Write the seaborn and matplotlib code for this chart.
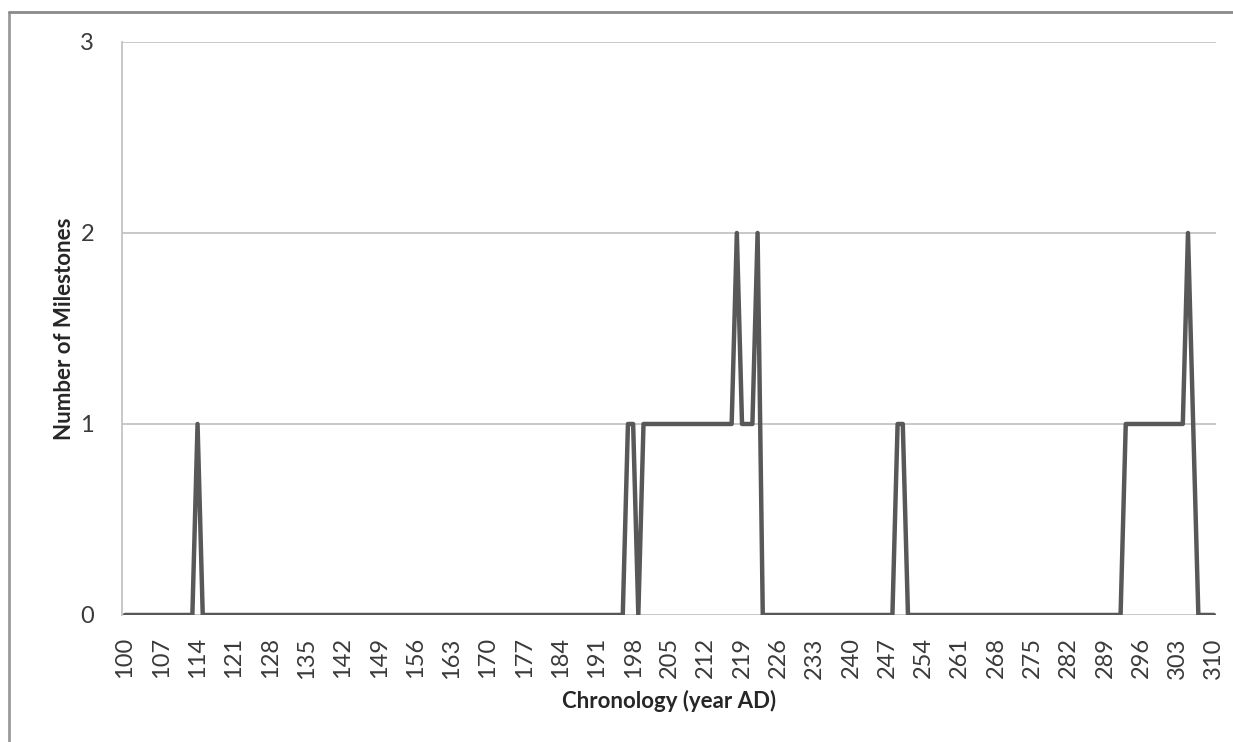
import matplotlib
matplotlib.use("Agg")
import matplotlib.pyplot as plt
import seaborn as sns
import pandas as pd
from matplotlib.lines import Line2D

# milestones per year, one row per decade (100-109, 110-119, ...)
years = list(range(100, 311))
milestones = [
    0, 0, 0, 0, 0, 0, 0, 0, 0, 0,
    0, 0, 0, 0, 1, 0, 0, 0, 0, 0,
    0, 0, 0, 0, 0, 0, 0, 0, 0, 0,
    0, 0, 0, 0, 0, 0, 0, 0, 0, 0,
    0, 0, 0, 0, 0, 0, 0, 0, 0, 0,
    0, 0, 0, 0, 0, 0, 0, 0, 0, 0,
    0, 0, 0, 0, 0, 0, 0, 0, 0, 0,
    0, 0, 0, 0, 0, 0, 0, 0, 0, 0,
    0, 0, 0, 0, 0, 0, 0, 0, 0, 0,
    0, 0, 0, 0, 0, 0, 0, 1, 1, 0,
    1, 1, 1, 1, 1, 1, 1, 1, 1, 1,
    1, 1, 1, 1, 1, 1, 1, 1, 2, 1,
    1, 1, 2, 0, 0, 0, 0, 0, 0, 0,
    0, 0, 0, 0, 0, 0, 0, 0, 0, 0,
    0, 0, 0, 0, 0, 0, 0, 0, 0, 1,
    1, 0, 0, 0, 0, 0, 0, 0, 0, 0,
    0, 0, 0, 0, 0, 0, 0, 0, 0, 0,
    0, 0, 0, 0, 0, 0, 0, 0, 0, 0,
    0, 0, 0, 0, 0, 0, 0, 0, 0, 0,
    0, 0, 0, 1, 1, 1, 1, 1, 1, 1,
    1, 1, 1, 1, 1, 2, 1, 0, 0, 0,
    0,
]
tick_years = list(range(100, 311, 7))
y_ticks = [0, 1, 2, 3]

df = pd.DataFrame({"year": years, "count": milestones})

sns.set_style("white")
plt.rcParams["font.family"] = ["Lato", "DejaVu Sans"]

fig = plt.figure(figsize=(12.33, 7.42), dpi=100)
ax = fig.add_axes([0.0989, 0.1712, 0.8873, 0.7722])

sns.lineplot(data=df, x="year", y="count", ax=ax, color="#585858", linewidth=3.2)

ax.set_xlim(99.42, 310.4)
ax.set_ylim(0, 3)
ax.set_xticks(tick_years)
ax.set_xticklabels([str(t) for t in tick_years], rotation=90, fontsize=17, color="#3a3a3a")
ax.set_yticks(y_ticks)
ax.set_yticklabels([str(t) for t in y_ticks], fontsize=17, color="#3a3a3a")
ax.yaxis.grid(True, color="#c4c4c4", linewidth=1.3)
ax.set_axisbelow(True)
ax.tick_params(axis="y", length=8, color="#c4c4c4", width=1.3, pad=12)
ax.tick_params(axis="x", length=0, pad=16)

for side in ["top", "right", "bottom"]:
    ax.spines[side].set_visible(False)
ax.spines["left"].set_color("#c4c4c4")
ax.spines["left"].set_linewidth(1.3)

ax.set_xlabel("Chronology (year AD)", fontsize=16, fontweight="bold", labelpad=8)
ax.set_ylabel("Number of Milestones", fontsize=16, fontweight="bold", labelpad=4)

# outer frame (top and left edges visible in the reference)
fig.add_artist(Line2D([9 / 1233, 9 / 1233], [0, 1 - 12 / 742], transform=fig.transFigure,
                      color="#9a9a9a", linewidth=2))
fig.add_artist(Line2D([9 / 1233, 1], [1 - 12 / 742, 1 - 12 / 742], transform=fig.transFigure,
                      color="#8a8a8a", linewidth=2))

plt.savefig("out.png", dpi=100)
